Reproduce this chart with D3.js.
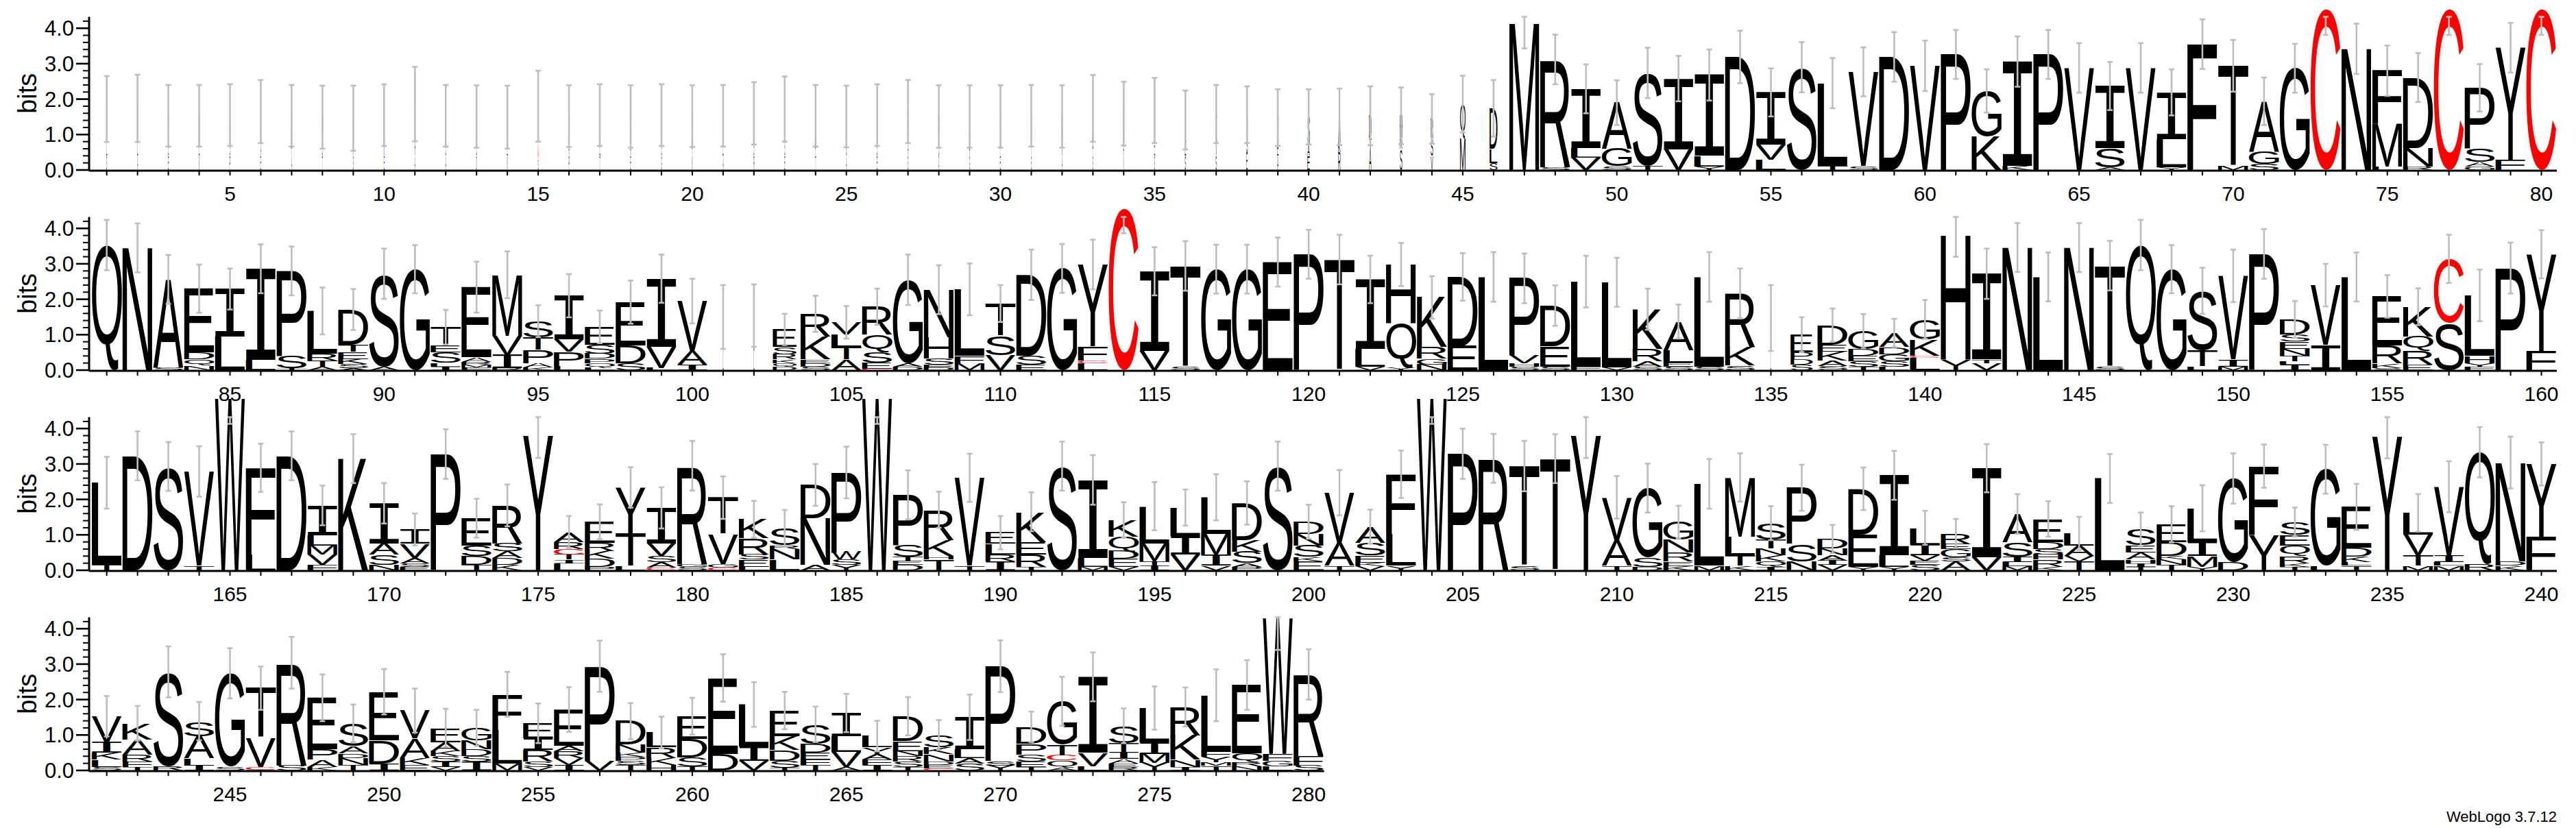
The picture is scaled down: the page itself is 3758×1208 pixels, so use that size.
<!DOCTYPE html>
<html>
<head>
<meta charset="utf-8">
<script src="https://cdn.jsdelivr.net/npm/d3@7"></script>
<style>
  body { margin: 0; background: #fff; }
  svg { display: block; }
</style>
</head>
<body>
<svg id="logo"></svg>
<script>
// sequence logo, 280 columns, 80 per line
// each stack is listed bottom -> top as "<letter><bits>"
const stacks1 = [
  "S.4 L.5 M.82", "A.4 L.5 M.84", "E.4 S.5 T.63", "K.4 E.5 R.63", "P.4 S.5 A.65",
  "E.4 Q.5 S.75", "A.4 P.5 S.63", "T.4 S.5 P.59", "S.4 A.5 G.56", "E.4 K.5 S.65",
  "A.4 R.5 S.96", "A.4 S.5 P.63", "D.4 S.5 E.61", "K.4 E.5 S.59", "S.3 C1.5",
  "P.4 A.5 S.62", "T.4 E.5 S.65", "E.4 A.5 S.61", "G.4 S.5 A.65", "K.4 P.5 S.62",
  "A.4 E.5 S.63", "R.4 S.5 T.7", "E.4 S.5 A.82", "T.4 P.5 S.63", "A.4 G.5 S.61",
  "E.4 S.5 P.65", "S.4 A.5 E.75", "Q.4 S.5 P.61", "G.4 A.5 S.61", "E.4 P.5 S.61",
  "S.4 T.5 A.63", "A.4 K.5 E.61", "S.4 P.5 L.84", "V.4 A.5 L.69", "S.4 E.5 C.78",
  "S.4 E.4 L.61", "S.4 V.4 I.78", "E.5 S.4 Q.66", "A.4 E.4 I.68", "E.4 A.3 S.8",
  "R.5 K.3 A.7", "A.6 T.3 D.63", "S.6 R.3 H.63", "V.4 S.5 R.54", "M.9 Q.96",
  "S.2 L.4 D1.14", "M4.13", "S.08 R3.04", "V.35 L.27 I1.67", "S.1 G.5 A1.3",
  "T.11 S2.63", "V.58 I2.0", "Y.1 L.3 I2.28", "D3.19", "L.29 V.42 I1.48",
  "S2.9", "T.12 L2.33", "S.11 V2.66", "D3.19", "V2.94",
  "P3.26", "K.95 G1.28", "K.12 I2.94", "P3.26", "V2.88",
  "A.07 S.55 I1.75", "V2.88", "Y.07 L.8 I1.32", "F3.55", "M.11 T2.83",
  "S.17 G.35 A1.42", "G2.87", "C4.54", "N3.42", "L.1 M1.2 F1.5",
  "R.1 N.52 D1.99", "C4.54", "G.1 A.12 S.39 P1.71", "F.29 Y3.16", "C4.54"
];
const errors1 = [
  .93, .95, .87, .87, .87, .89, .87, .89, .92, .87,
  1.05, .87, .88, .89, 1.0, .87, .87, .88, .87, .87,
  .87, .88, .92, .87, .87, .87, .89, .88, .88, .88,
  .87, .88, .94, .9, .92, .83, .82, .8, .8, .78,
  .8, .83, .8, .7, .8, .8, .7, .7, .69, .63,
  .71, .64, .72, .74, .68, .71, .71, .69, .7, .71,
  .69, .61, .71, .69, .7, .68, .7, .65, .7, .73,
  .67, .69, .73, .71, .71, .69, .73, .67, .7, .73
];

const stacks2 = [
  "Q3.53", "N3.45", "S.08 A2.48", "N.13 Q.17 D.2 E1.8", "L.94 I1.35",
  "L.29 I2.57", "T.05 S.35 P2.4", "A.1 T.17 R.2 L1.2", "A.05 S.12 K.14 E.2 T.2 D1.0", "A.1 S2.62",
  "G2.85", "I.1 L.1 S.3 E.2 T.51", "F.08 M.08 R.08 A.12 E1.98", "R.06 I.37 V.54 M1.72", "K.08 A.12 P.38 T.35 S.45",
  "L.12 P.4 V.35 I1.23", "L.08 Q.12 P.12 D.15 S.25 E.5", "S.2 D.5 E1.22", "L.06 V.6 I1.92", "I.16 A.39 V1.4",
  "L.5 A1.0", "L.5 S1.04", "D.1 Q.1 K.1 R.15 S.2 E.5", "S.1 D.1 E.1 K.65 R.64", "A.3 T.35 L.35 V.35",
  "C.04 E.16 S.3 Q.5 R.79", "D.1 A.1 G2.35", "D.08 E.08 S.17 H.6 N1.34", "M.2 F.2 L1.88", "V.42 S.55 T.91",
  "E.15 S.25 D2.29", "G2.87", "L.19 C.08 F.4 Y2.31", "C4.56", "V.55 I2.24",
  "S.1 T2.84", "G2.85", "G2.85", "E3.05", "P3.27",
  "T3.12", "V.1 L.5 I1.96", "Y.06 Q1.26 H1.66", "N.16 G.16 R.33 K1.4", "E.68 D1.95",
  "L2.63", "S.1 H.1 V.22 P2.17", "S.1 E.57 D1.15", "F.1 L2.4", "V.08 L2.4",
  "S.1 A.15 R.35 K1.12", "S.1 E.12 L.35 A.8", "S.1 L2.53", "S.13 K.52 R1.52", "L.5 S.97",
  "S.15 D.15 P.2 E.5", "S.12 A.15 K.25 E.2 D.55", "T.1 S.15 E.15 D.2 G.5", "L.1 S.15 G.2 D.2 A.4", "L.35 C.06 K.45 G.57",
  "Y.3 H3.5", "V.2 T.1 I2.42", "N3.46", "L2.63", "N3.46",
  "S.1 T2.85", "Q3.53", "G2.85", "L.1 T.45 S1.69", "M.1 I.2 V2.36",
  "P3.28", "I.15 L.1 T.15 N.2 E.2 S.2 D.43", "I.71 V1.69", "L2.63", "S.06 K.13 R.5 E1.39",
  "E.15 R.4 Q.4 K.84", "S1.32 C1.82", "F.1 Y.1 H.2 L1.71", "P2.88", "F.55 Y2.72"
];
const errors2 = [
  .71, .69, .69, .68, .58, .69, .69, .66, .58, .71,
  .68, .49, .72, .66, .45, .61, .46, .61, .68, .63,
  .9, .88, .44, .51, .46, .51, .71, .69, .73, .52,
  .71, .69, .7, .7, .68, .7, .69, .69, .69, .69,
  .7, .67, .61, .6, .67, .7, .7, .57, .73, .69,
  .58, .48, .7, .7, .93, .49, .47, .48, .4, .55,
  .6, .71, .69, .69, .69, .7, .71, .68, .65, .74,
  .7, .52, .6, .69, .6, .52, .68, .73, .72, .68
];

const stacks3 = [
  "T.15 L2.32", "D3.23", "S2.93", "T.13 V2.66", "W4.85",
  "L.45 F2.44", "D3.23", "F.15 V.29 M.26 L.29 I.84", "K3.15", "N.15 S.29 A.32 I1.13",
  "E.1 S.1 A.15 V.4 I.4", "P3.28", "T.15 D.25 S.3 E.77", "K.15 D.19 A.19 S.23 R1.07", "Y3.8",
  "L.2 I.1 T.15 C.15 R.2 A.28", "P.1 D.23 K.22 R.22 E.6", "L.12 T.93 Y1.29", "C.08 A.14 S.18 V.36 I1.0", "S.1 G.08 R2.77",
  "C.08 G.1 V.85 T1.02", "L.1 E.2 S.15 R.45 K.54", "L.3 N.3 R.1 S.48", "A.15 N1.32 D.94", "Y.15 S.15 W.21 P2.25",
  "W4.85", "D.15 E.12 T.12 S.32 P1.42", "T.3 H.1 K.45 R.86", "T.13 V2.48", "I.25 R.2 L.3 E.31",
  "T.1 R.35 E.35 K.85", "S2.94", "M.1 L.25 I2.2", "V.1 E.22 D.22 Q.4 K.48", "I.13 T.13 M.5 L1.05",
  "V.45 I.52 L.8", "V.13 I.3 M.6 L1.03", "P.1 A.1 S.33 K.32 D1.05", "S2.94", "E.25 K.13 S.32 N.32 D.35",
  "T.13 A.65 V1.41", "V.12 K.1 E.2 S.36 A.45", "Y.13 L.9 F1.68", "W4.85", "P3.29",
  "R3.16", "S.13 T2.81", "T3.15", "Y3.8", "T.13 A.71 V1.22",
  "D.1 S.26 G1.96", "K.12 E.13 R.25 N.36 G.5", "M.13 L2.31", "K.13 T.3 L.52 M1.67", "I.1 Q.15 K.17 N.2 T.25 S.46",
  "N.25 S.5 P1.58", "V.15 I.12 A.15 N.2 D.26", "Y.1 E.91 D1.29", "Y.1 L.32 I2.26", "S.15 E.12 V.15 I.3 L.48",
  "A.25 S.12 G.22 E.15 R.3", "V.36 I2.52", "M.12 L.12 I.15 S.4 A.8", "K.1 R.2 H.15 S.15 D.2 E.65", "T.25 V.15 A.3 L.34",
  "L2.59", "T.1 I.1 H.1 A.2 E.2 S.45", "T.15 N.15 K.1 D.4 E.5", "Y.1 M.3 I.4 L.95", "D.23 G2.36",
  "Y1.0 F1.94", "T.1 K.1 R.2 Q.3 E.3 S.36", "L.13 G2.72", "T.13 L.1 K.15 D.25 E1.16", "Y3.78",
  "M.13 T.29 V.58 L.62", "M.13 L.1 I.19 V1.94", "R.17 Q3.16", "K.13 D.13 N2.78", "F.94 Y2.06"
];
const errors3 = [
  .73, .69, .69, .71, .72, .68, .69, .56, .69, .57,
  .45, .7, .55, .59, .63, .45, .49, .57, .58, .7,
  .6, .52, .52, .59, .73, .72, .69, .51, .68, .47,
  .55, .69, .7, .5, .68, .51, .65, .61, .69, .48,
  .64, .48, .67, .72, .71, .69, .71, .69, .63, .6,
  .69, .46, .7, .68, .48, .65, .4, .6, .69, .48,
  .41, .68, .56, .5, .47, .69, .48, .51, .65, .71,
  .61, .41, .69, .65, .62, .53, .72, .71, .73, .61
];

const stacks4 = [
  "S.1 L.2 K.2 I.3 V.73", "T.1 F.15 R.2 A.43 K.45", "R.12 S2.66", "I.14 L.2 A.63 S.42", "S.11 G2.63",
  "I.02 C.08 V.82 T1.4", "S.14 R2.9", "K.1 A.2 P.3 E1.45", "T.15 N.2 D.13 A.2 S.65", "I.2 D.65 E1.37",
  "E.15 K.2 A.55 V.79", "V.1 I.15 S.15 K.15 A.25 E.4", "I.25 S.15 D.2 N.25 G.35", "M.2 L.95 F1.0", "V.1 S.15 R.33 I.32 E.43",
  "I.15 V.2 R.2 A.15 E1.02", "V.28 P2.66", "T.15 S.12 P.12 K.12 N.22 D.66", "H.15 K.2 R.3 L.42", "T.12 S.25 D.52 E.64",
  "D.47 E2.14", "V.28 I.39 L1.19", "T.08 S.2 D.3 K.39 E.72", "T.15 F.15 E.2 D.25 S.55", "A.1 V.42 L.45 I.65",
  "I.15 F.15 A.15 Y.2 L.32", "T.1 S.15 R.15 N.15 E.28 D.7", "C.06 E.1 D.1 N.2 K.2 S.34", "S.2 A.15 L.25 I.9", "Y.14 S.13 P2.67",
  "T.1 E.15 S.2 P.3 D.48", "A.08 Q.2 C.15 T.3 G1.22", "L.12 V.38 I2.14", "R.1 E.1 A.12 I.2 T.25 S.49", "Y.21 M.26 I.33 L.96",
  "I.1 N.2 K.68 R.81", "T.13 M.1 Y.15 F.15 L1.59", "N.12 R.12 Q.25 E1.92", "L.12 G.15 F.2 W3.83", "S.14 F.26 R2.31"
];
const errors4 = [
  .57, .49, .72, .54, .71, .61, .73, .66, .53, .64,
  .62, .54, .51, .63, .56, .63, .72, .51, .45, .52,
  .67, .63, .53, .5, .54, .43, .54, .42, .64, .73,
  .43, .69, .69, .49, .61, .55, .73, .7, .9, .71
];

// columns that are mostly gaps get a narrower stack: [first, last, fraction]
const stackWidths = [
  [1, 35, 0.035], [36, 39, 0.06], [40, 44, 0.1], [45, 45, 0.2], [46, 46, 0.28],
  [101, 102, 0.03], [103, 103, 0.8], [135, 135, 0.04], [136, 136, 0.75]
];
const yTicks = [0, 1, 2, 3, 4];
const footer = "WebLogo 3.7.12";

const rows = [
  { start: 1, stacks: stacks1, errors: errors1 },
  { start: 81, stacks: stacks2, errors: errors2 },
  { start: 161, stacks: stacks3, errors: errors3 },
  { start: 241, stacks: stacks4, errors: errors4 }
];

const W = 3758, H = 1208;
const YMAX = Math.log2(20);
const svg = d3.select("#logo").attr("width", W).attr("height", H);

const x = d3.scaleLinear().domain([0.5, 80.5]).range([133.2, 3730]);
const base = d3.scaleLinear().domain([0, 1]).range([248, 540]);   // baseline of line r
const axisX = 130;

const parseStack = s => s.split(" ").map(t => ({ ch: t[0], bits: +t.slice(1) }));
const fracOf = pos => {
  const r = stackWidths.find(d => pos >= d[0] && pos <= d[1]);
  return r ? r[2] : 1;
};

// ink box of each glyph, measured once on a canvas
const mctx = document.createElement("canvas").getContext("2d");
const metrics = {};
function glyph(ch) {
  if (!metrics[ch]) {
    const family = ch === "I" ? "DejaVu Sans Mono" : "Liberation Sans";
    mctx.font = `normal 100px "${family}"`;
    const m = mctx.measureText(ch);
    metrics[ch] = {
      family,
      left: -m.actualBoundingBoxLeft,
      right: m.actualBoundingBoxRight,
      top: -m.actualBoundingBoxAscent,
      bottom: m.actualBoundingBoxDescent
    };
  }
  return metrics[ch];
}

rows.forEach((row, r) => {
  const b = base(r);
  const y = d3.scaleLinear().domain([0, YMAX]).range([b, b - YMAX * 51.7]);
  const n = row.stacks.length;
  const g = svg.append("g");

  // y axis
  g.append("line").attr("x1", axisX).attr("x2", axisX)
    .attr("y1", y(0) + 1.5).attr("y2", y(YMAX))
    .attr("stroke", "#000").attr("stroke-width", 3);
  const minor = d3.range(0, 4.21, 0.2);
  g.selectAll(".ytick").data(minor).join("line")
    .attr("x1", d => Math.abs(d - Math.round(d)) < 1e-6 ? axisX - 19 : axisX - 9)
    .attr("x2", axisX)
    .attr("y1", d => y(d)).attr("y2", d => y(d))
    .attr("stroke", "#000")
    .attr("stroke-width", d => Math.abs(d - Math.round(d)) < 1e-6 ? 2.6 : 2);
  g.selectAll(".ylab").data(yTicks).join("text")
    .attr("x", axisX - 22).attr("y", d => y(d) + 11)
    .attr("text-anchor", "end")
    .attr("font-family", "Liberation Sans, Arial, sans-serif")
    .attr("font-size", 31)
    .text(d => d3.format(".1f")(d));
  g.append("text")
    .attr("transform", `translate(53,${(y(0) + y(YMAX)) / 2}) rotate(-90)`)
    .attr("text-anchor", "middle")
    .attr("font-family", "Liberation Sans, Arial, sans-serif")
    .attr("font-size", 38)
    .text("bits");

  // x axis
  g.append("line").attr("x1", axisX).attr("x2", x(n + 0.5))
    .attr("y1", b + 1).attr("y2", b + 1)
    .attr("stroke", "#000").attr("stroke-width", 3);
  const cols = d3.range(1, n + 1);
  g.selectAll(".xtick").data(cols).join("line")
    .attr("x1", d => x(d)).attr("x2", d => x(d))
    .attr("y1", b + 2).attr("y2", b + 8)
    .attr("stroke", "#000").attr("stroke-width", 2);
  g.selectAll(".xlab").data(cols.filter(d => (d + row.start - 1) % 5 === 0)).join("text")
    .attr("x", d => x(d)).attr("y", b + 45)
    .attr("text-anchor", "middle")
    .attr("font-family", "Liberation Sans, Arial, sans-serif")
    .attr("font-size", 30)
    .text(d => d + row.start - 1);

  // stacks
  const errs = [];
  row.stacks.forEach((s, i) => {
    const k = i + 1;
    const pos = row.start + i;
    const w = Math.max(44.96 * fracOf(pos) - 1, 1);
    const x0 = x(k) - w / 2;
    let acc = 0;
    parseStack(s).forEach(({ ch, bits }) => {
      const yb = y(acc), yt = y(acc + bits);
      acc += bits;
      const h = yb - yt;
      if (h < 0.2) return;
      const m = glyph(ch);
      const sx = w / (m.right - m.left), sy = h / (m.bottom - m.top);
      g.append("text")
        .attr("font-family", m.family)
        .attr("font-size", 100)
        .attr("fill", ch === "C" ? "#ff0000" : "#000")
        .attr("transform", `translate(${x0},${yt}) scale(${sx},${sy}) translate(${-m.left},${-m.top})`)
        .text(ch);
    });
    const e = row.errors[i];
    errs.push({ k, lo: Math.max(0, acc - e), hi: Math.min(YMAX, acc + e) });
  });

  // error bars on top
  const eb = g.selectAll(".err").data(errs.filter(d => d.hi > d.lo)).join("g");
  eb.append("line")
    .attr("x1", d => x(d.k)).attr("x2", d => x(d.k))
    .attr("y1", d => y(d.lo)).attr("y2", d => y(d.hi))
    .attr("stroke", "#bdbdbd").attr("stroke-width", 2.6);
  ["lo", "hi"].forEach(end => {
    eb.append("line")
      .attr("x1", d => x(d.k) - 4).attr("x2", d => x(d.k) + 4)
      .attr("y1", d => y(d[end])).attr("y2", d => y(d[end]))
      .attr("stroke", "#bdbdbd").attr("stroke-width", 2.6);
  });
});

svg.append("text")
  .attr("x", 3730).attr("y", 1199)
  .attr("text-anchor", "end")
  .attr("font-family", "Liberation Sans, Arial, sans-serif")
  .attr("font-size", 22)
  .text(footer);
</script>
</body>
</html>
